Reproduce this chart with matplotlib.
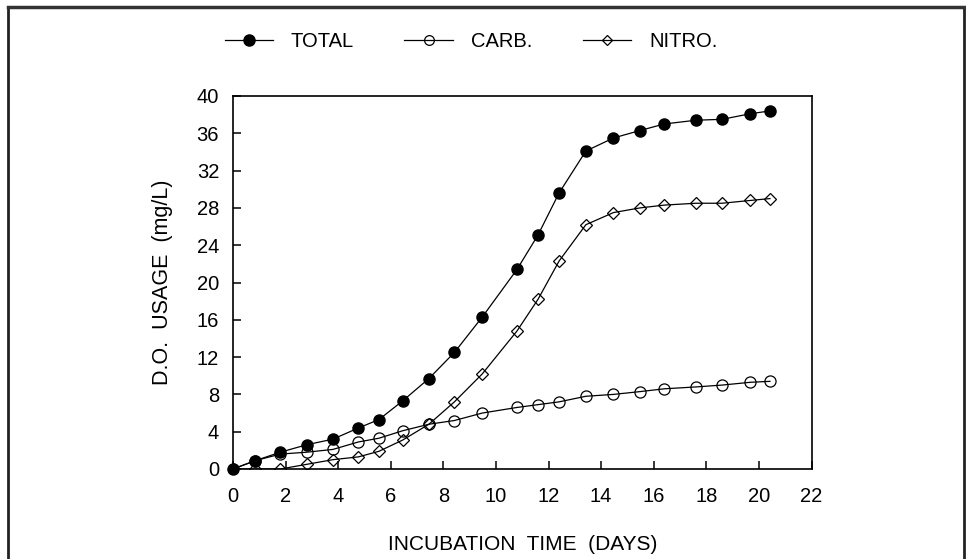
import matplotlib
matplotlib.use("Agg")
import matplotlib.pyplot as plt
from matplotlib.lines import Line2D

plt.rcParams['font.family'] = ['Liberation Sans', 'DejaVu Sans']

days = [0, 0.85, 1.8, 2.8, 3.8, 4.77, 5.55, 6.45, 7.45, 8.42, 9.48, 10.8,
        11.6, 12.4, 13.42, 14.47, 15.48, 16.4, 17.6, 18.6, 19.68, 20.42]
total = [0, 0.9, 1.8, 2.6, 3.2, 4.4, 5.3, 7.3, 9.7, 12.5, 16.3, 21.4,
         25.1, 29.6, 34.1, 35.5, 36.3, 37.0, 37.4, 37.5, 38.1, 38.4]
carb = [0, 0.9, 1.6, 1.8, 2.1, 2.9, 3.3, 4.1, 4.8, 5.2, 6.0, 6.6,
        6.9, 7.2, 7.8, 8.0, 8.3, 8.6, 8.8, 9.0, 9.3, 9.4]
nitro = [0, 0, 0, 0.5, 1.0, 1.3, 1.9, 3.1, 4.8, 7.2, 10.2, 14.8,
         18.2, 22.3, 26.2, 27.5, 28.0, 28.3, 28.5, 28.5, 28.8, 29.0]

xticks = [0, 2, 4, 6, 8, 10, 12, 14, 16, 18, 20, 22]
yticks = [0, 4, 8, 12, 16, 20, 24, 28, 32, 36, 40]

fig = plt.figure(figsize=(9.66, 5.59), dpi=100)
ax = fig.add_axes([233/966, 1-469/559, (811.5-233)/966, (469-96)/559])

lw = 0.9
ax.plot(days, carb, color='black', lw=lw, marker='o', markersize=8,
        markerfacecolor='none', markeredgecolor='black', markeredgewidth=0.9,
        zorder=3, label='CARB.')
ax.plot(days, nitro, color='black', lw=lw, marker='D', markersize=6.5,
        markerfacecolor='none', markeredgecolor='black', markeredgewidth=0.9,
        zorder=3, label='NITRO.')
ax.plot(days, total, color='black', lw=lw, marker='o', markersize=8,
        markerfacecolor='black', markeredgecolor='black', zorder=4,
        label='TOTAL', clip_on=False)

ax.set_xlim(0, 22)
ax.set_ylim(0, 40)
ax.set_xticks(xticks)
ax.set_yticks(yticks)
ax.set_xticklabels([str(v) for v in xticks], fontsize=14.5)
ax.set_yticklabels([str(v) for v in yticks], fontsize=14.5)
ax.tick_params(axis='both', direction='in', length=5.5, width=1.1, colors='black')
ax.tick_params(axis='y', pad=10)
ax.tick_params(axis='x', pad=13)
for s in ax.spines.values():
    s.set_linewidth(1.2)

ax.set_xlabel('INCUBATION  TIME  (DAYS)', fontsize=15, labelpad=21)
ax.set_ylabel('D.O.  USAGE  (mg/L)', fontsize=15.5, labelpad=17)

handles = [
    Line2D([], [], color='black', lw=lw, marker='o', markersize=8,
           markerfacecolor='black'),
    Line2D([], [], color='black', lw=lw, marker='o', markersize=7,
           markerfacecolor='none', markeredgewidth=0.9),
    Line2D([], [], color='black', lw=lw, marker='D', markersize=5.5,
           markerfacecolor='none', markeredgewidth=0.9),
]
fig.legend(handles, ['TOTAL', 'CARB.', 'NITRO.'], ncol=3, loc='center',
           bbox_to_anchor=(471/966, 1-41.7/559), frameon=False,
           fontsize=14.5, handlelength=2.4, columnspacing=2.5, handletextpad=0.9)

# outer frame (top, left, right)
fig.add_artist(Line2D([8/966, 8/966], [0, 1-7/559], transform=fig.transFigure,
                      color='#222222', lw=2))
fig.add_artist(Line2D([964/966, 964/966], [0, 1-7/559], transform=fig.transFigure,
                      color='#222222', lw=2))
fig.add_artist(Line2D([8/966, 964/966], [1-7/559, 1-7/559], transform=fig.transFigure,
                      color='#333333', lw=2.5))

fig.savefig('out.png', dpi=100)
